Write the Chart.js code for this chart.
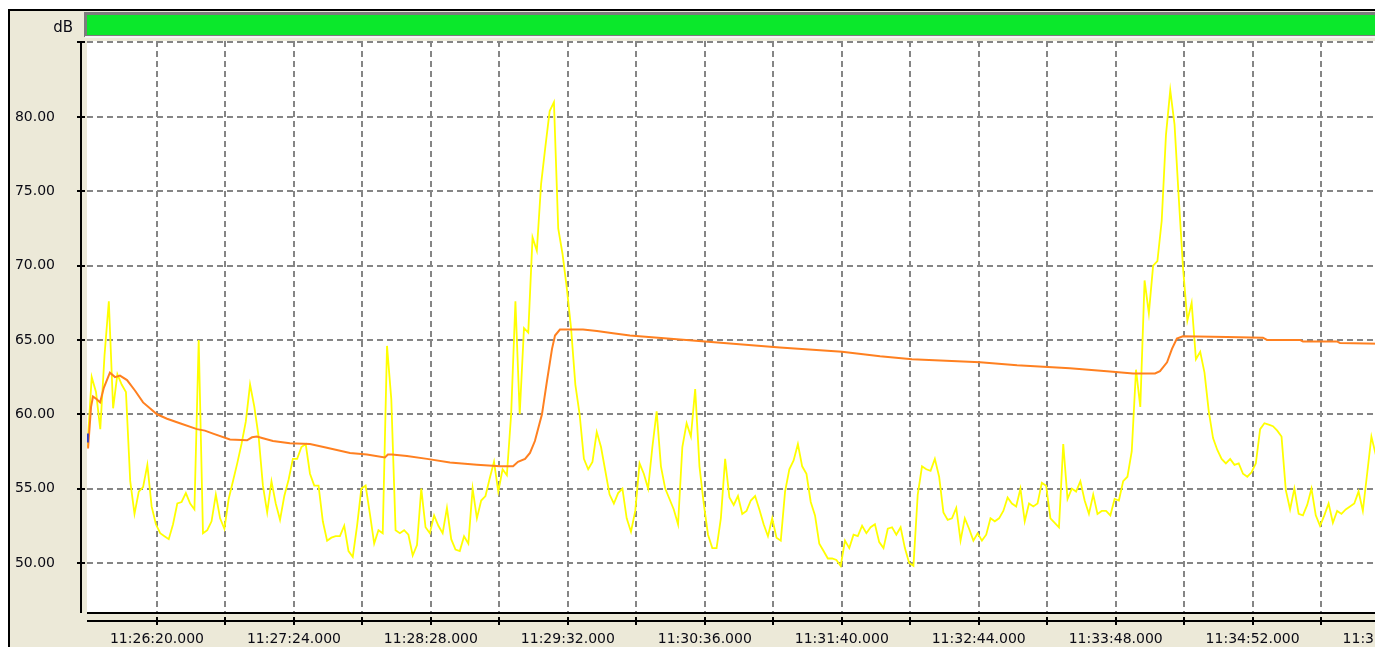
<!DOCTYPE html>
<html>
<head>
<meta charset="utf-8">
<script src="https://cdn.jsdelivr.net/npm/chart.js@4"></script>
<style>
html, body { margin: 0; padding: 0; overflow: hidden; background: #ffffff; }
#wrap { position: absolute; left: 0; top: 0; width: 1460px; height: 647px; }
</style>
</head>
<body>
<div id="wrap"><canvas id="levelChart" width="1460" height="647"></canvas></div>
<script>
// time axis: seconds relative to 11:26:20
const BASE_SECONDS = 11 * 3600 + 26 * 60 + 20;
const X_MIN = -32.7;
const X_MAX = 608.9;
const GRID_STEP = 32;
const LABEL_STEP = 64;

const yTicks = [50, 55, 60, 65, 70, 75, 80];
const Y_MIN = 46.7;
const Y_MAX = 85.11;

// instantaneous level (yellow), one value every 2 s
const YELLOW_START = -32.5;
const YELLOW_STEP = 2;
const yellowValues = [
  57.8, 62.5, 61.5, 59.0, 64.0, 67.6, 60.4, 62.7, 62.0, 61.5,
  55.5, 53.3, 54.8, 55.1, 56.6, 53.8, 52.6, 52.0, 51.8, 51.6,
  52.6, 54.0, 54.1, 54.7, 54.0, 53.6, 65.0, 52.0, 52.2, 52.8,
  54.6, 53.0, 52.3, 54.3, 55.5, 56.7, 58.0, 59.5, 62.0, 60.5,
  58.5, 55.2, 53.4, 55.5, 54.0, 52.9, 54.5, 55.6, 57.0, 57.0,
  57.8, 58.0, 56.0, 55.2, 55.2, 52.8, 51.5, 51.7, 51.8, 51.8,
  52.5, 50.8, 50.4, 52.5, 55.0, 55.2, 53.3, 51.3, 52.2, 52.0,
  64.6, 61.0, 52.2, 52.0, 52.2, 51.9, 50.5, 51.2, 55.0, 52.4,
  52.0, 53.2, 52.5, 52.0, 53.7, 51.6, 50.9, 50.8, 51.8, 51.3,
  55.0, 53.0, 54.2, 54.5, 55.7, 56.8, 54.8, 56.3, 55.9, 60.0,
  67.6, 60.0, 65.8, 65.5, 71.9, 71.0, 75.5, 78.0, 80.4, 81.0,
  72.5, 70.8, 68.5, 65.8, 62.0, 60.0, 57.0, 56.3, 56.8, 58.8,
  57.8, 56.2, 54.6, 54.0, 54.7, 55.0, 53.0, 52.1, 53.5, 56.7,
  56.0, 55.0, 57.8, 60.2, 56.5, 55.0, 54.3, 53.6, 52.6, 57.8,
  59.4, 58.5, 61.7, 56.5, 54.0, 51.9, 51.0, 51.0, 53.0, 57.0,
  54.4, 53.9, 54.5, 53.3, 53.5, 54.2, 54.5, 53.6, 52.6, 51.8,
  53.0, 51.7, 51.5, 54.8, 56.3, 56.9, 58.0, 56.5, 56.0, 54.1,
  53.2, 51.3, 50.8, 50.3, 50.3, 50.2, 49.8, 51.5, 51.0, 51.9,
  51.8, 52.5, 52.0, 52.4, 52.6, 51.4, 51.0, 52.3, 52.4, 51.9,
  52.4, 51.0, 50.0, 49.8, 54.6, 56.5, 56.3, 56.2, 57.0, 55.8,
  53.4, 52.9, 53.0, 53.7, 51.5, 53.0, 52.3, 51.5, 52.0, 51.5,
  51.9, 53.0, 52.8, 53.0, 53.5, 54.4, 54.0, 53.8, 55.0, 52.8,
  54.0, 53.8, 54.0, 55.4, 55.2, 53.0, 52.7, 52.4, 58.0, 54.3,
  55.0, 54.8, 55.5, 54.2, 53.3, 54.6, 53.3, 53.5, 53.5, 53.2,
  54.3, 54.2, 55.5, 55.8, 57.5, 63.0, 60.5, 69.0, 66.8, 70.0,
  70.3, 73.0, 78.8, 81.8, 79.5, 74.5, 69.8, 66.3, 67.5, 63.7,
  64.2, 62.8, 60.2, 58.4, 57.6, 57.0, 56.7, 57.0, 56.6, 56.7,
  56.0, 55.8, 56.1, 56.7, 59.0, 59.4, 59.3, 59.2, 58.9, 58.5,
  54.9, 53.6, 55.0, 53.3, 53.2, 53.9, 55.0, 53.2, 52.5, 53.2,
  54.0, 52.7, 53.5, 53.3, 53.6, 53.8, 54.0, 54.8, 53.5, 56.0,
  58.5, 57.3, 57.0
];

// running average level (orange)
const orangeTimes = [
  -32.2, -30.8, -29.9, -28.0, -26.6, -24.8, -22.0, -19.6, -17.3, -14.0,
  -10.3, -6.5, -3.3, 0, 4.7, 10.7, 18.7, 22.4, 26.2, 34.1,
  42.1, 44.4, 46.7, 49.1, 54.2, 62.1, 71.5, 79.4, 90.2, 98.1,
  106.5, 107.9, 109.8, 116.8, 126.2, 136.9, 149.5, 160.3, 166.4, 168.7,
  172.0, 174.3, 176.6, 179.9, 182.2, 184.6, 186.0, 188.3, 199.1, 205.6,
  213.1, 221.0, 256.1, 291.1, 320.1, 337.9, 352.8, 384.6, 401.9, 426.6,
  443.9, 456.1, 466.4, 468.7, 472.0, 474.3, 476.6, 479.4, 500.0, 516.8,
  518.7, 534.1, 535.5, 551.4, 552.8, 571.5
];
const orangeValues = [
  57.7, 60.5, 61.2, 61.0, 60.8, 61.8, 62.8, 62.5, 62.6, 62.3,
  61.6, 60.8, 60.4, 60.0, 59.7, 59.4, 59.0, 58.9, 58.7, 58.3,
  58.25, 58.45, 58.5, 58.4, 58.2, 58.05, 58.0, 57.75, 57.4, 57.3,
  57.1, 57.3, 57.3, 57.2, 57.0, 56.75, 56.6, 56.5, 56.5, 56.8,
  57.0, 57.4, 58.2, 60.0, 62.2, 64.4, 65.3, 65.7, 65.7, 65.6,
  65.45, 65.3, 64.9, 64.5, 64.2, 63.9, 63.7, 63.5, 63.3, 63.1,
  62.9, 62.75, 62.75, 62.9, 63.5, 64.4, 65.1, 65.25, 65.2, 65.15,
  65.0, 65.0, 64.9, 64.9, 64.8, 64.75
];

// short blue trace at the very start
const blueTimes = [-32.7, -32.3];
const blueValues = [58.7, 58.1];

const yellowPoints = yellowValues.map((v, i) => ({ x: YELLOW_START + i * YELLOW_STEP, y: v }));
const orangePoints = orangeValues.map((v, i) => ({ x: orangeTimes[i], y: v }));
const bluePoints = blueValues.map((v, i) => ({ x: blueTimes[i], y: v }));

function pad2(n) { return String(n).padStart(2, "0"); }
function timeLabel(v) {
  const t = Math.round(BASE_SECONDS + v);
  const h = Math.floor(t / 3600);
  const m = Math.floor((t % 3600) / 60);
  const s = t % 60;
  return h + ":" + pad2(m) + ":" + pad2(s) + ".000";
}

const GRID_COLOR = "#858585";
const BEIGE = "#ECE9D8";
const TEXT_COLOR = "#0a0a14";

const framePlugin = {
  id: "frame",
  beforeDraw(chart) {
    const c = chart.ctx;
    const a = chart.chartArea;
    const W = chart.width, H = chart.height;
    c.save();
    c.fillStyle = "#ffffff";
    c.fillRect(0, 0, W, H);
    c.fillStyle = BEIGE;
    c.fillRect(9, 10, W, H);
    // outer black frame
    c.fillStyle = "#000000";
    c.fillRect(8, 9, W, 2);
    c.fillRect(8, 9, 2, H);
    // green status bar
    c.fillStyle = "#7c7c7c";
    c.fillRect(84, 12, W, 25);
    c.fillStyle = "#0BE82B";
    c.fillRect(87, 15, W, 20);
    c.fillStyle = "#f4f4f4";
    c.fillRect(85, 36, W, 2);
    // plot area
    c.fillStyle = "#ffffff";
    c.fillRect(a.left, a.top, a.right - a.left, a.bottom - a.top);
    c.restore();
  },
  beforeDatasetsDraw(chart) {
    const c = chart.ctx;
    const a = chart.chartArea;
    c.save();
    c.strokeStyle = GRID_COLOR;
    c.lineWidth = 2;
    c.setLineDash([6, 4]);
    c.beginPath();
    c.moveTo(a.left, a.top + 1);
    c.lineTo(a.right, a.top + 1);
    c.stroke();
    c.restore();
  },
  afterDraw(chart) {
    const c = chart.ctx;
    const a = chart.chartArea;
    const xs = chart.scales.x, ys = chart.scales.y;
    c.save();
    c.strokeStyle = "#000000";
    c.lineWidth = 2;
    // y axis line with ticks
    c.beginPath();
    c.moveTo(81, a.top);
    c.lineTo(81, a.bottom + 1);
    c.moveTo(77, a.top + 1);
    c.lineTo(85, a.top + 1);
    yTicks.forEach(v => {
      const p = Math.round(ys.getPixelForValue(v));
      c.moveTo(77, p);
      c.lineTo(85, p);
    });
    c.stroke();
    // plot bottom line and x axis line
    c.beginPath();
    c.moveTo(a.left, a.bottom + 1);
    c.lineTo(a.right, a.bottom + 1);
    c.moveTo(a.left, 621);
    c.lineTo(a.right, 621);
    xs.ticks.forEach(t => {
      const p = Math.round(xs.getPixelForValue(t.value));
      c.moveTo(p, 617);
      c.lineTo(p, 625);
    });
    c.stroke();
    // unit label
    c.fillStyle = TEXT_COLOR;
    c.font = "15px 'DejaVu Sans'";
    c.textAlign = "right";
    c.textBaseline = "middle";
    c.fillText("dB", 73, 28);
    c.restore();
  }
};

new Chart(document.getElementById("levelChart"), {
  type: "line",
  data: {
    datasets: [
      {
        label: "blue",
        data: bluePoints,
        borderColor: "#2a3cc8",
        borderWidth: 2,
        pointRadius: 0
      },
      {
        label: "Leq",
        data: orangePoints,
        borderColor: "#FF8020",
        borderWidth: 2,
        pointRadius: 0
      },
      {
        label: "Lp",
        data: yellowPoints,
        borderColor: "#FFFF00",
        borderWidth: 1.8,
        pointRadius: 0
      }
    ]
  },
  plugins: [framePlugin],
  options: {
    responsive: false,
    animation: false,
    events: [],
    layout: {
      padding: { top: 41, left: 0, right: 0, bottom: 0 }
    },
    elements: {
      line: { tension: 0 }
    },
    plugins: {
      legend: { display: false },
      tooltip: { enabled: false }
    },
    scales: {
      x: {
        type: "linear",
        min: X_MIN,
        max: X_MAX,
        afterBuildTicks(scale) {
          const ticks = [];
          for (let v = 0; v <= X_MAX; v += GRID_STEP) ticks.push({ value: v });
          scale.ticks = ticks;
        },
        afterFit(scale) {
          scale.height = 35;
          scale.paddingLeft = 0;
          scale.paddingRight = 0;
        },
        grid: {
          color: GRID_COLOR,
          lineWidth: 2,
          drawTicks: false
        },
        border: { display: false, dash: [6, 4] },
        ticks: {
          autoSkip: false,
          maxRotation: 0,
          minRotation: 0,
          padding: 19,
          color: TEXT_COLOR,
          font: { family: "DejaVu Sans", size: 14 },
          callback: v => (v % LABEL_STEP === 0 ? timeLabel(v) : "")
        }
      },
      y: {
        min: Y_MIN,
        max: Y_MAX,
        afterBuildTicks(scale) {
          scale.ticks = yTicks.map(v => ({ value: v }));
        },
        afterFit(scale) {
          scale.width = 87;
          scale.paddingTop = 0;
          scale.paddingBottom = 0;
        },
        grid: {
          color: GRID_COLOR,
          lineWidth: 2,
          drawTicks: false
        },
        border: { display: false, dash: [6, 4] },
        ticks: {
          padding: 32,
          color: TEXT_COLOR,
          font: { family: "DejaVu Sans", size: 14 },
          callback: v => v.toFixed(2)
        }
      }
    }
  }
});
</script>
</body>
</html>
